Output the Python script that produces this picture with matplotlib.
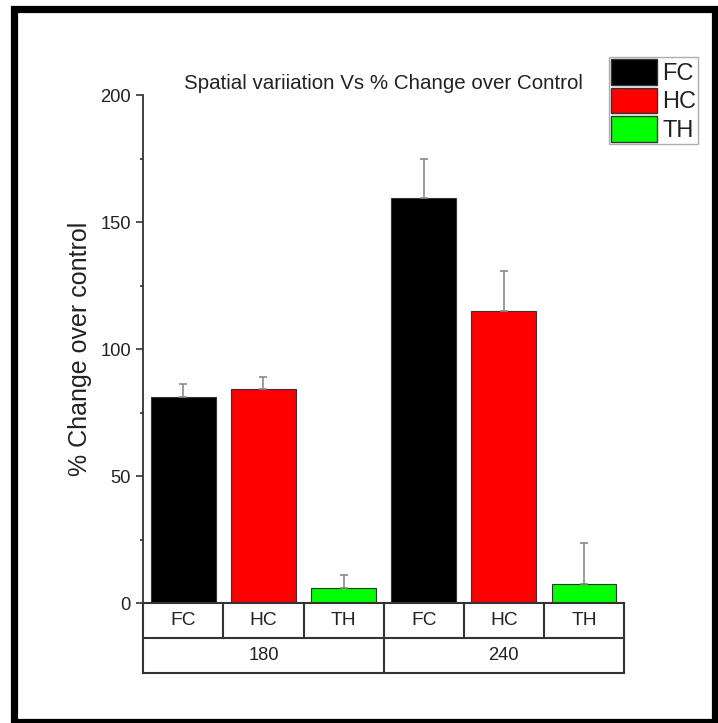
import matplotlib
matplotlib.use("Agg")
import matplotlib.pyplot as plt
from matplotlib.patches import Rectangle
import matplotlib.transforms as mtransforms
import numpy as np

plt.rcParams['font.family'] = ['Liberation Sans', 'DejaVu Sans']

# data
groups = ['180', '240']
regions = ['FC', 'HC', 'TH']
colors = ['#000000', '#ff0000', '#00ff00']
values_180 = [81.3, 84.2, 5.9]
values_240 = [159.6, 115.1, 7.7]
err_180 = [4.9, 4.8, 5.1]
err_240 = [15.1, 15.6, 16.0]

values = values_180 + values_240
errors = err_180 + err_240
bar_colors = colors * len(groups)
bar_labels = regions * len(groups)
x = np.arange(len(values))

fig = plt.figure(figsize=(7.18, 7.23), dpi=100)
ax = fig.add_axes([0.1996, 0.1656, 0.6695, 0.703])

ax.bar(x, values, width=0.81, color=bar_colors, edgecolor='#333333', linewidth=0.8, zorder=2)
ax.errorbar(x, values, yerr=[np.zeros(len(errors)), errors], fmt='none',
            ecolor='#8a8a8a', elinewidth=1.2, capsize=2.9, capthick=1.2, zorder=3)

ax.set_xlim(-0.5, len(values) - 0.5)
ax.set_ylim(0, 200)
ax.set_yticks([0, 50, 100, 150, 200])
ax.set_yticks([25, 75, 125, 175], minor=True)
ax.tick_params(axis='y', which='major', length=5, width=1.1, pad=4.0,
               labelsize=13.2, colors='#222222', direction='out')
ax.tick_params(axis='y', which='minor', length=2.5, width=1.1, direction='out', colors='#222222')
ax.set_xticks([])
for s in ['top', 'right']:
    ax.spines[s].set_visible(False)
ax.spines['left'].set_color('#333333')
ax.spines['left'].set_linewidth(1.3)
ax.spines['bottom'].set_color('#333333')
ax.spines['bottom'].set_linewidth(1.5)

ax.set_ylabel('% Change over control', fontsize=18, color='#222222')
ax.yaxis.set_label_coords(-0.107, 0.5)

# category table below the axis
trans = mtransforms.blended_transform_factory(ax.transData, ax.transAxes)
row_h = 35 / 508.3
lkw = dict(color='#333333', linewidth=1.5, transform=trans, clip_on=False)
x0, x1 = -0.5, len(values) - 0.5
ax.plot([x0, x1], [-row_h, -row_h], **lkw)
ax.plot([x0, x1], [-2 * row_h, -2 * row_h], **lkw)
ax.plot([x0, x0], [0, -2 * row_h], **lkw)
ax.plot([x1, x1], [0, -2 * row_h], **lkw)
for i in range(1, len(values)):
    ax.plot([i - 0.5, i - 0.5], [0, -row_h], **lkw)
for j in range(1, len(groups)):
    b = j * len(regions) - 0.5
    ax.plot([b, b], [-row_h, -2 * row_h], **lkw)
for xi, lab in zip(x, bar_labels):
    ax.text(xi, -row_h / 2, lab, transform=trans, ha='center', va='center',
            fontsize=13.8, color='#222222')
for j, g in enumerate(groups):
    cx = j * len(regions) + (len(regions) - 1) / 2
    ax.text(cx, -1.5 * row_h, g, transform=trans, ha='center', va='center',
            fontsize=13.2, color='#222222')

fig.text(0.534, 0.885, 'Spatial variiation Vs % Change over Control',
         ha='center', va='center', fontsize=14.8, color='#222222')

handles = [Rectangle((0, 0), 1, 1, facecolor=c, edgecolor='#333333', linewidth=1.0) for c in colors]
leg = fig.legend(handles, regions, loc='upper left',
                 bbox_to_anchor=(609 / 718, 1 - 57 / 723), fontsize=17,
                 handlelength=1.95, handleheight=1.28, labelspacing=0.12,
                 handletextpad=0.2, borderpad=0.1, borderaxespad=0,
                 fancybox=False, frameon=True)
leg.get_frame().set_edgecolor('#999999')
leg.get_frame().set_linewidth(1.0)
for t in leg.get_texts():
    t.set_color('#222222')

# outer black frame
fig.patches.append(Rectangle((13.5 / 718, 1 - 722 / 723), (714.5 - 13.5) / 718, (722 - 9) / 723,
                             transform=fig.transFigure, fill=False, edgecolor='black',
                             linewidth=5.2))

fig.savefig('out.png', dpi=100)
